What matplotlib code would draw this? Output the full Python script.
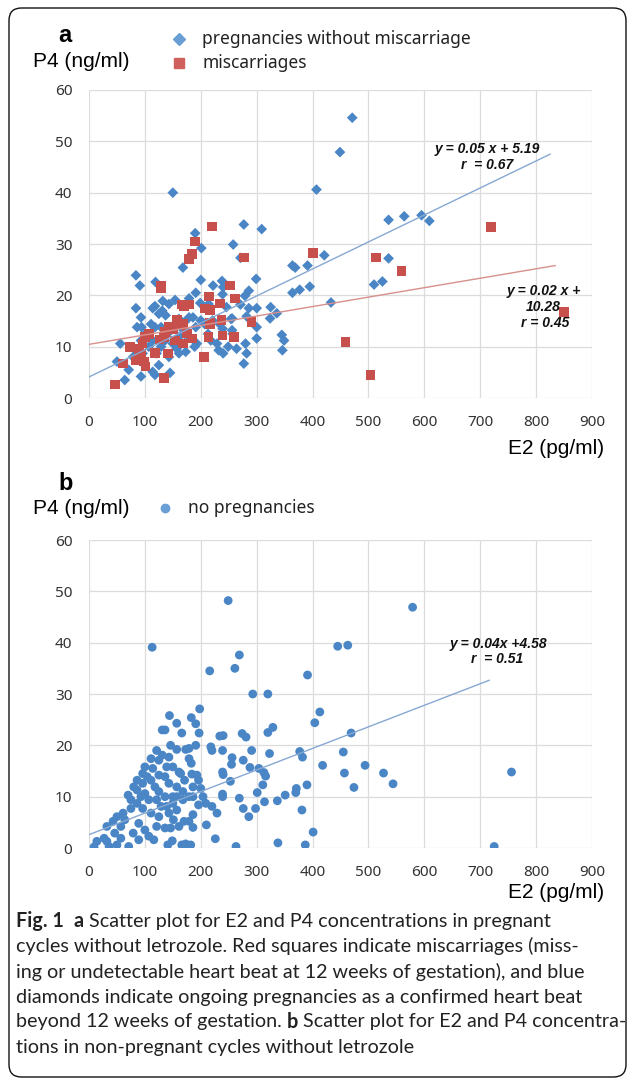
import matplotlib
matplotlib.use("Agg")
import matplotlib.pyplot as plt
from matplotlib.lines import Line2D
from matplotlib.patches import FancyBboxPatch

# ---------------- data ----------------
# Panel a: pregnancies without miscarriage (blue diamonds)
a_blue_e2 = [150, 407, 449, 471, 536, 564, 595, 609, 277, 309, 190, 201, 258, 271, 168, 84,
             91, 119, 200, 222, 238, 240, 299, 364, 369, 391, 421, 364, 377, 395, 433, 510,
             525, 536, 84, 114, 118, 131, 137, 154, 179, 191, 199, 214, 239, 246, 286, 300,
             325, 336, 324, 282, 256, 271, 279, 286, 93, 94, 86, 101, 161, 171, 191, 193,
             213, 218, 229, 232, 240, 249, 256, 257, 264, 280, 282, 300, 300, 345, 349, 346,
             277, 56, 50, 64, 93, 71, 79, 100, 114, 118, 125, 143, 145, 161, 173, 129,
             136, 150, 157, 143, 154, 161, 164, 171, 179, 186, 200, 207, 221, 239, 234, 254,
             114, 107, 93, 86, 121, 118, 129, 132, 143, 125, 111, 96, 179, 189]
a_blue_p4 = [40.0, 40.6, 47.9, 54.6, 34.7, 35.4, 35.6, 34.5, 33.8, 32.9, 32.1, 29.2, 29.9, 27.3,
             25.4, 23.9, 21.9, 22.6, 23.0, 21.9, 22.8, 21.6, 23.2, 25.8, 25.4, 25.8, 27.8, 20.5,
             21.1, 21.7, 18.6, 22.1, 22.7, 27.2, 17.5, 17.5, 17.9, 17.0, 16.1, 19.1, 19.4, 20.5,
             18.5, 18.3, 20.2, 17.7, 17.5, 17.5, 17.7, 16.5, 15.5, 15.9, 15.5, 18.2, 19.9, 20.9,
             15.7, 13.8, 13.8, 12.5, 11.9, 12.5, 13.8, 10.6, 12.5, 11.2, 10.6, 9.3, 8.7, 10.0,
             13.2, 12.5, 9.6, 10.6, 8.7, 13.8, 11.6, 12.3, 11.2, 9.3, 6.7, 10.6, 7.1, 3.5,
             4.2, 5.5, 8.0, 6.4, 5.1, 4.5, 6.4, 8.0, 4.9, 8.7, 9.0, 10.0, 11.2, 10.6,
             9.6, 12.8, 14.4, 15.4, 13.8, 14.8, 15.7, 15.7, 15.1, 14.4, 15.1, 13.5, 14.4, 15.4,
             11.2, 10.0, 11.2, 8.7, 8.7, 13.8, 13.8, 18.9, 18.3, 16.4, 14.4, 8.7, 11.9, 10.0]

# Panel a: miscarriages (red squares)
a_red_e2 = [220, 190, 184, 179, 277, 401, 513, 559, 719, 850, 459, 504, 129, 129, 252, 215,
            261, 234, 208, 216, 166, 179, 170, 291, 237, 216, 216, 168, 157, 143, 151, 136,
            134, 126, 175, 184, 214, 239, 259, 168, 154, 141, 118, 107, 100, 96, 89, 73,
            84, 98, 101, 61, 46, 134, 206, 93]
a_red_p4 = [33.4, 30.5, 28.1, 27.1, 27.4, 28.2, 27.4, 24.8, 33.3, 16.8, 10.9, 4.5, 21.9, 21.3,
            21.9, 19.8, 19.4, 18.4, 17.4, 17.1, 18.2, 18.2, 17.9, 14.8, 15.2, 14.6, 14.4, 14.4,
            15.2, 13.8, 13.5, 12.8, 11.9, 11.4, 12.6, 11.6, 11.9, 12.2, 11.9, 10.6, 11.2, 8.7,
            8.8, 12.5, 11.9, 10.6, 9.6, 9.9, 7.4, 7.1, 6.1, 6.7, 2.6, 3.9, 8.0, 8.7]

# Panel b: no pregnancies (blue circles)
b_e2 = [249, 579, 113, 269, 445, 463, 261, 216, 391, 293, 320, 413, 404, 469, 329, 320,
        274, 281, 240, 234, 218, 220, 239, 291, 377, 382, 455, 494, 418, 527, 544, 756,
        457, 474, 390, 371, 370, 351, 337, 269, 276, 286, 298, 311, 316, 313, 301, 314,
        323, 304, 288, 276, 256, 255, 253, 240, 239, 239, 239, 220, 229, 210, 226, 263,
        338, 387, 401, 381, 725, 198, 183, 191, 197, 191, 157, 144, 131, 136, 166, 146,
        157, 173, 179, 179, 183, 184, 193, 196, 186, 200, 204, 209, 196, 186, 179, 170,
        161, 151, 186, 182, 166, 173, 141, 149, 116, 111, 131, 100, 96, 86, 80, 70,
        75, 61, 50, 43, 32, 27, 32, 14, 9, 36, 50, 71, 57, 79, 89, 100,
        107, 121, 136, 146, 125, 111, 96, 86, 75, 64, 89, 57, 46, 139, 150, 157,
        136, 125, 118, 111, 125, 136, 143, 157, 168, 171, 164, 150, 139, 114, 100, 107,
        93, 86, 96, 179, 186, 168, 150, 143, 129, 121, 104, 157, 125, 143, 161, 121]
b_p4 = [48.2, 46.9, 39.1, 37.6, 39.3, 39.5, 35.0, 34.5, 33.7, 30.0, 30.0, 26.5, 24.4, 22.4, 23.5, 22.5,
        22.3, 21.6, 21.9, 21.8, 19.7, 19.0, 19.0, 19.0, 18.8, 17.7, 18.7, 16.1, 16.1, 14.6, 12.5, 14.8,
        14.6, 11.8, 12.3, 11.6, 10.8, 10.3, 9.2, 9.7, 7.7, 6.1, 7.7, 12.3, 14.0, 14.7, 10.8, 9.0,
        18.4, 15.5, 15.7, 17.1, 17.6, 16.3, 13.0, 14.3, 14.8, 10.5, 10.0, 8.1, 6.8, 4.5, 1.8, 0.3,
        1.0, 0.6, 3.1, 7.4, 0.3, 27.1, 25.4, 24.2, 22.4, 20.0, 24.3, 25.8, 23.0, 23.0, 22.4, 20.0,
        19.2, 19.2, 19.4, 17.4, 16.5, 14.4, 14.2, 13.2, 11.9, 11.6, 10.0, 8.7, 8.4, 6.5, 5.2, 5.2,
        4.2, 5.5, 4.0, 0.6, 0.6, 0.8, 0.6, 1.4, 1.6, 17.4, 18.1, 15.8, 14.5, 13.2, 11.9, 10.3,
        9.4, 6.8, 6.1, 5.2, 4.2, 1.9, 1.3, 1.3, 0.2, 0.3, 0.6, 0.3, 1.9, 2.9, 1.6, 3.5,
        2.3, 4.2, 3.9, 3.9, 6.1, 6.8, 7.7, 8.7, 7.7, 5.5, 4.8, 4.2, 2.9, 8.1, 8.7, 7.4,
        10.0, 11.0, 11.9, 13.2, 14.2, 13.9, 12.6, 11.9, 11.0, 13.2, 14.5, 15.8, 15.8, 15.5, 10.6, 9.4,
        10.0, 11.3, 12.6, 10.0, 10.0, 9.4, 10.0, 6.8, 8.1, 9.4, 13.9, 10.0, 17.1, 17.7, 14.8, 19.0]

# Trend lines as drawn (intercept, slope, last x)
a_blue_fit = (4.1, 0.0526, 825)
a_red_fit = (10.45, 0.0184, 834)
b_fit = (2.6, 0.042, 716)

x_ticks = list(range(0, 1000, 100))
y_ticks = list(range(0, 70, 10))

BLUE = "#4A86C6"
RED = "#C8504C"
BLUE_LINE = "#86A8D2"
RED_LINE = "#D8908C"
GRID = "#DCDCDC"

W, H = 627, 1080
fig = plt.figure(figsize=(W / 100, H / 100), dpi=100)
fig.patch.set_facecolor("white")


def rect(x0, x1, ytop, ybot):
    return [x0 / W, 1 - ybot / H, (x1 - x0) / W, (ybot - ytop) / H]


def P(x, y):
    return (x / W, 1 - y / H)


TICKFONT = "Noto Sans"
ARIAL = "Liberation Sans"
CAPFONT = "Lato"

axA = fig.add_axes(rect(89, 592, 90, 398))
axB = fig.add_axes(rect(89, 592, 540, 848))
for ax in (axA, axB):
    ax.set_xlim(0, 900)
    ax.set_ylim(0, 60)
    ax.set_xticks(x_ticks)
    ax.set_yticks(y_ticks)
    ax.grid(True, color=GRID, lw=0.9)
    ax.set_axisbelow(True)
    for s in ax.spines.values():
        s.set_visible(False)
    ax.tick_params(length=0, labelsize=11, colors="#333333")
    ax.tick_params(axis="x", pad=12)
    ax.tick_params(axis="y", pad=12)
    for lab in ax.get_xticklabels() + ax.get_yticklabels():
        lab.set_fontfamily(TICKFONT)

# Panel a
axA.scatter(a_blue_e2, a_blue_p4, marker="D", s=30, color=BLUE, edgecolors="none", zorder=3)
axA.scatter(a_red_e2, a_red_p4, marker="s", s=48, color=RED, edgecolors="none", zorder=4)
for (b0, b1, xm), c in ((a_blue_fit, BLUE_LINE), (a_red_fit, RED_LINE)):
    axA.plot([0, xm], [b0, b0 + b1 * xm], color=c, lw=1.0, zorder=5)

eqkw = dict(ha="center", va="center", fontsize=10, fontweight="bold", fontstyle="italic",
            fontfamily=ARIAL, color="#111111", zorder=6)
axA.text(713, 48.5, "y = 0.05 x + 5.19", **eqkw)
axA.text(712, 45.3, "r  = 0.67", **eqkw)
axA.text(813, 20.8, "y = 0.02 x +", **eqkw)
axA.text(812, 17.7, "10.28", **eqkw)
axA.text(816, 14.6, "r = 0.45", **eqkw)

# Panel b
axB.scatter(b_e2, b_p4, marker="o", s=40, color=BLUE, edgecolors="none", zorder=3)
b0, b1, xm = b_fit
axB.plot([0, xm], [b0, b0 + b1 * xm], color=BLUE_LINE, lw=1.0, zorder=5)
axB.text(732, 39.8, "y = 0.04x +4.58", **eqkw)
axB.text(730, 36.8, "r  = 0.51", **eqkw)

# Panel labels, axis titles and legends
fig.text(*P(58, 35), "a", fontsize=17, fontweight="bold", fontfamily=ARIAL, va="center", ha="left")
fig.text(*P(33, 62), "P4 (ng/ml)", fontsize=15, fontfamily=ARIAL, va="center", ha="left")
fig.text(*P(604, 449), "E2 (pg/ml)", fontsize=15, fontfamily=ARIAL, va="center", ha="right")
fig.add_artist(Line2D([179 / W], [1 - 39 / H], transform=fig.transFigure, marker="D",
                      markersize=6, color="#6A9FD6", lw=0))
fig.add_artist(Line2D([179 / W], [1 - 63 / H], transform=fig.transFigure, marker="s",
                      markersize=7, color="#D0605C", lw=0))
fig.text(*P(202, 39), "pregnancies without miscarriage", fontsize=12.5, fontfamily=TICKFONT,
         va="center", ha="left", color="#222222")
fig.text(*P(202, 63), "miscarriages", fontsize=12.5, fontfamily=TICKFONT,
         va="center", ha="left", color="#222222")

fig.text(*P(58, 483), "b", fontsize=17, fontweight="bold", fontfamily=ARIAL, va="center", ha="left")
fig.text(*P(33, 508), "P4 (ng/ml)", fontsize=15, fontfamily=ARIAL, va="center", ha="left")
fig.text(*P(604, 893), "E2 (pg/ml)", fontsize=15, fontfamily=ARIAL, va="center", ha="right")
fig.add_artist(Line2D([165 / W], [1 - 508 / H], transform=fig.transFigure, marker="o",
                      markersize=6, color="#6A9FD6", lw=0))
fig.text(*P(188, 508), "no pregnancies", fontsize=12.5, fontfamily=TICKFONT,
         va="center", ha="left", color="#222222")

# Caption
caption = [
    [("Fig. 1", True), ("  ", False), ("a", True), (" Scatter plot for E2 and P4 concentrations in pregnant", False)],
    [("cycles without letrozole. Red squares indicate miscarriages (miss-", False)],
    [("ing or undetectable heart beat at 12 weeks of gestation), and blue", False)],
    [("diamonds indicate ongoing pregnancies as a confirmed heart beat", False)],
    [("beyond 12 weeks of gestation. ", False), ("b", True), (" Scatter plot for E2 and P4 concentra-", False)],
    [("tions in non-pregnant cycles without letrozole", False)],
]
cap_y = [921, 946, 971.5, 997, 1022, 1047]
renderer = fig.canvas.get_renderer()
# fit the caption font size so that the third line spans the text block width
probe = fig.text(0, 0, caption[2][0][0], fontsize=12, fontfamily=CAPFONT)
pw = probe.get_window_extent(renderer=renderer).width
probe.remove()
cap_size = 12 * 569 / pw
for parts, yy in zip(caption, cap_y):
    x = 16
    for txt, bold in parts:
        t = fig.text(*P(x, yy), txt, fontsize=cap_size, fontfamily=CAPFONT,
                     fontweight="bold" if bold else "normal", va="center", ha="left",
                     color="#222222")
        bb = t.get_window_extent(renderer=renderer)
        x += bb.width

# Frame
frame = FancyBboxPatch((9 / W, 1 - 1077 / H), (626 - 9) / W, (1077 - 8) / H,
                       boxstyle="round,pad=0,rounding_size=0.02", transform=fig.transFigure,
                       fill=False, edgecolor="#111111", lw=1.0, mutation_aspect=W / H)
fig.add_artist(frame)

fig.savefig("out.png", dpi=100)
